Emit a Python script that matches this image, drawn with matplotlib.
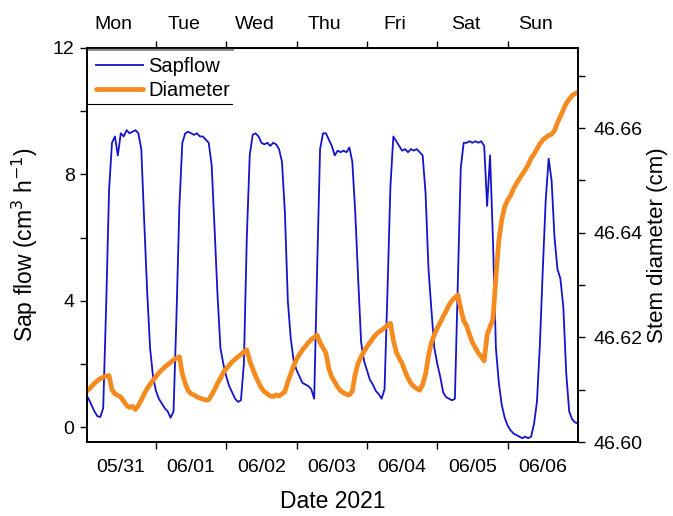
import matplotlib
matplotlib.use("Agg")
import matplotlib.pyplot as plt
from matplotlib.lines import Line2D

plt.rcParams['font.family'] = ['Liberation Sans', 'DejaVu Sans']

# hourly readings, hour 0 .. 168 from start of the record
hours = list(range(169))

sapflow = [
    1.05, 0.9, 0.7, 0.5, 0.35, 0.32, 0.6, 3.8, 7.5, 9.0, 9.2, 8.6, 9.3, 9.2, 9.4, 9.3, 9.35, 9.4, 9.3, 8.8, 6.5, 4.3, 2.5, 1.6,
    1.15, 0.9, 0.75, 0.6, 0.5, 0.3, 0.5, 3.5, 7.0, 9.0, 9.3, 9.35, 9.3, 9.25, 9.3, 9.2, 9.2, 9.1, 9.0, 8.3, 6.3, 4.2, 2.5, 2.0,
    1.6, 1.3, 1.1, 0.9, 0.8, 0.85, 2.0, 6.0, 8.6, 9.25, 9.3, 9.2, 9.0, 8.95, 9.0, 8.9, 9.0, 8.95, 8.8, 8.4, 6.8, 4.0, 2.8, 2.1,
    1.8, 1.6, 1.4, 1.35, 1.3, 1.2, 0.9, 5.0, 8.8, 9.3, 9.3, 9.1, 8.9, 8.6, 8.75, 8.7, 8.75, 8.7, 8.85, 8.4, 6.8, 4.7, 2.7, 2.1,
    1.8, 1.5, 1.35, 1.15, 1.05, 0.9, 1.2, 4.3, 7.6, 9.2, 9.05, 8.9, 8.75, 8.8, 8.7, 8.8, 8.75, 8.8, 8.7, 8.6, 7.4, 5.0, 3.7, 2.5,
    2.0, 1.6, 1.1, 0.95, 0.9, 0.85, 0.9, 4.5, 8.2, 9.0, 9.0, 9.05, 9.0, 9.05, 9.0, 9.05, 8.9, 7.0, 8.6, 5.9, 2.5, 1.4, 0.7, 0.3,
    0.05, -0.1, -0.2, -0.25, -0.3, -0.35, -0.3, -0.35, -0.3, 0.1, 0.8, 2.6, 5.0, 7.2, 8.5, 7.8, 6.0, 5.0, 4.7, 3.8, 1.7, 0.5, 0.25, 0.15,
    0.12,
]

diameter = [
    46.6096, 46.6100, 46.6106, 46.6112, 46.6117, 46.6121, 46.6124, 46.6126, 46.6127, 46.6100, 46.6092, 46.6089,
    46.6086, 46.6078, 46.6070, 46.6066, 46.6068, 46.6062, 46.6070, 46.6080, 46.6092, 46.6102, 46.6110, 46.6118,
    46.6125, 46.6132, 46.6138, 46.6143, 46.6148, 46.6152, 46.6157, 46.6160, 46.6163, 46.6130, 46.6112, 46.6098,
    46.6092, 46.6090, 46.6086, 46.6084, 46.6082, 46.6080, 46.6081, 46.6090, 46.6100, 46.6112, 46.6122, 46.6133,
    46.6140, 46.6147, 46.6153, 46.6158, 46.6163, 46.6167, 46.6172, 46.6176, 46.6155, 46.6140, 46.6126, 46.6114,
    46.6103, 46.6096, 46.6092, 46.6088, 46.6087, 46.6090, 46.6088, 46.6092, 46.6096, 46.6115, 46.6130, 46.6146,
    46.6158, 46.6168, 46.6176, 46.6183, 46.6190, 46.6196, 46.6200, 46.6204, 46.6190, 46.6180, 46.6170, 46.6140,
    46.6124, 46.6115, 46.6105, 46.6098, 46.6094, 46.6091, 46.6090, 46.6097, 46.6130, 46.6151, 46.6163, 46.6173,
    46.6182, 46.6190, 46.6198, 46.6205, 46.6210, 46.6214, 46.6218, 46.6223, 46.6227, 46.6195, 46.6172, 46.6160,
    46.6150, 46.6135, 46.6122, 46.6112, 46.6106, 46.6102, 46.6099, 46.6110, 46.6130, 46.6165, 46.6190, 46.6205,
    46.6218, 46.6228, 46.6240, 46.6250, 46.6262, 46.6270, 46.6276, 46.6281, 46.6255, 46.6232, 46.6222, 46.6205,
    46.6190, 46.6180, 46.6170, 46.6163, 46.6155, 46.6205, 46.6220, 46.6235, 46.6315, 46.6385, 46.6425, 46.6450,
    46.6462, 46.6471, 46.6484, 46.6494, 46.6503, 46.6512, 46.6520, 46.6530, 46.6542, 46.6550, 46.6560, 46.6570,
    46.6577, 46.6582, 46.6586, 46.6588, 46.6595, 46.6610, 46.6622, 46.6635, 46.6647, 46.6655, 46.6662, 46.6666,
    46.6668,
]

dates = ['05/31', '06/01', '06/02', '06/03', '06/04', '06/05', '06/06']
weekdays = ['Mon', 'Tue', 'Wed', 'Thu', 'Fri', 'Sat', 'Sun']

days = [h / 24 for h in hours]

fig = plt.figure(figsize=(6.73, 5.16), dpi=100)
ax = fig.add_axes([0.1293, 0.1434, 0.7295, 0.7636])
ax2 = ax.twinx()

l1, = ax.plot(days, sapflow, color='#1414c8', lw=1.3)
l2, = ax2.plot(days, diameter, color='#f58a1f', lw=3.4, solid_capstyle='round')

ax.set_xlim(0.02, 7.0)
ax.set_ylim(-0.47, 12)
ax2.set_ylim(46.60, 46.6753)

ax.set_yticks([0, 4, 8, 12])
ax.set_yticks([2, 6, 10], minor=True)
ax2.set_yticks([46.60, 46.62, 46.64, 46.66])
ax2.set_yticklabels(['46.60', '46.62', '46.64', '46.66'])
ax2.set_yticks([46.61, 46.63, 46.65, 46.67], minor=True)

ax.set_xticks([1, 2, 3, 4, 5, 6])
ax.set_xticklabels([])
ax.set_xticks([i + 0.5 for i in range(7)], minor=True)
ax.set_xticklabels(dates, minor=True)

top = ax.secondary_xaxis('top')
top.set_xticks([1, 2, 3, 4, 5, 6])
top.set_xticklabels([])
top.set_xticks([i + 0.4 for i in range(7)], minor=True)
top.set_xticklabels(weekdays, minor=True)
top.tick_params(which='major', direction='out', length=5, width=1)
top.tick_params(which='minor', length=0, labelsize=14, pad=11)

ax.tick_params(axis='x', which='major', direction='out', length=5, width=1)
ax.tick_params(axis='x', which='minor', length=0, labelsize=14, pad=12)
ax.tick_params(axis='y', which='both', direction='out', length=5, width=1, labelsize=14, pad=4)
ax2.tick_params(axis='y', which='both', direction='out', length=5, width=1, labelsize=14, pad=6)

for a in (ax, ax2):
    for s in a.spines.values():
        s.set_linewidth(1.2)

ax.set_xlabel('Date 2021', fontsize=16.5, labelpad=10)
ax.set_ylabel('Sap flow (cm$^3$ h$^{-1}$)', fontsize=16.5, labelpad=9)
ax2.set_ylabel('Stem diameter (cm)', fontsize=16, labelpad=3)

leg = ax2.legend([l1, l2], ['Sapflow', 'Diameter'], loc='upper left', bbox_to_anchor=(0.0, 1.0),
                 frameon=False, fontsize=14.5, handlelength=2.35, handletextpad=0.25,
                 borderaxespad=0.15, borderpad=0.3, labelspacing=0.25)
ax2.add_line(Line2D([0.0, 0.295], [0.858, 0.858], transform=ax2.transAxes, color='black', lw=0.8))
ax2.add_line(Line2D([0.0, 0.295], [0.997, 0.997], transform=ax2.transAxes, color='#888888', lw=2.0))

fig.savefig('out.png', dpi=100)
